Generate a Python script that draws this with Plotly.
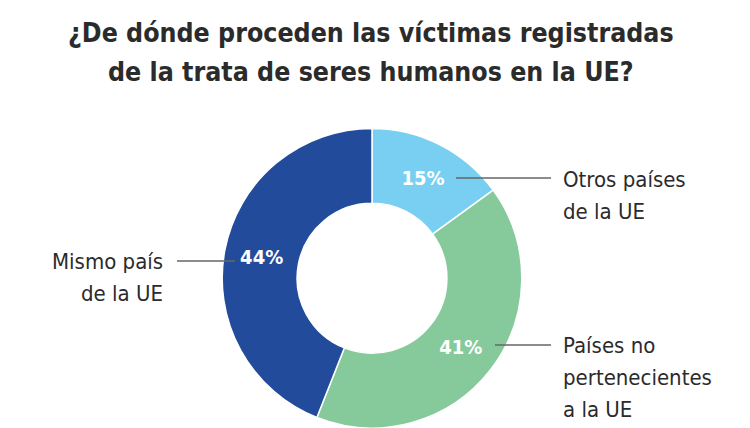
import plotly.graph_objects as go

categories = ["Otros países de la UE", "Países no pertenecientes a la UE", "Mismo país de la UE"]
values = [15, 41, 44]
colors = ["#79CFF1", "#86CA9C", "#234B9B"]
label_lines = [["Otros países", "de la UE"], ["Países no", "pertenecientes", "a la UE"], ["Mismo país", "de la UE"]]
title_lines = ["¿De dónde proceden las víctimas registradas", "de la trata de seres humanos en la UE?"]

W, H = 750, 428
FONT = "DejaVu Sans Condensed, Roboto Condensed, Liberation Sans Narrow, Roboto, sans-serif"

def px(x):
    return x / W

def py(y):
    return 1 - y / H

fig = go.Figure(go.Pie(
    labels=categories,
    values=values,
    hole=0.5,
    sort=False,
    direction="clockwise",
    rotation=0,
    marker=dict(colors=colors, line=dict(color="white", width=1.5)),
    texttemplate="<b>%{value}%</b>",
    textposition="inside",
    insidetextorientation="horizontal",
    textfont=dict(family=FONT, size=20, color="white"),
    domain=dict(x=[0.296, 0.696], y=[0.0, 0.70]),
    showlegend=False,
    hoverinfo="label+percent",
))

ann = []
for i, (t, yc) in enumerate(zip(title_lines, [32, 71])):
    ann.append(dict(text="<b>" + t + "</b>", x=px(371), y=py(yc), xref="paper", yref="paper",
                    xanchor="center", yanchor="middle", showarrow=False,
                    font=dict(family=FONT, size=26.5, color="#2b2b2b")))

label_pos = [(561, 180, "left"), (561, 345, "left"), (165, 261, "right")]
for lines, (x, y, al) in zip(label_lines, label_pos):
    for j, ln in enumerate(lines):
        ann.append(dict(text=ln, x=px(x), y=py(y + 32 * j), xref="paper", yref="paper",
                        xanchor=al, yanchor="middle", showarrow=False,
                        font=dict(family=FONT, size=22, color="#2b2b2b")))

shapes = []
leaders = [(456, 551, 178), (495, 551, 345), (177, 235, 261)]
for x0, x1, y in leaders:
    shapes.append(dict(type="line", xref="paper", yref="paper", x0=px(x0), x1=px(x1),
                       y0=py(y), y1=py(y), line=dict(color="#666666", width=1.5)))

fig.update_layout(
    width=W, height=H, autosize=False,
    margin=dict(l=0, r=0, t=0, b=0),
    paper_bgcolor="white", plot_bgcolor="white",
    annotations=ann, shapes=shapes,
)

fig.write_html("out.html")
